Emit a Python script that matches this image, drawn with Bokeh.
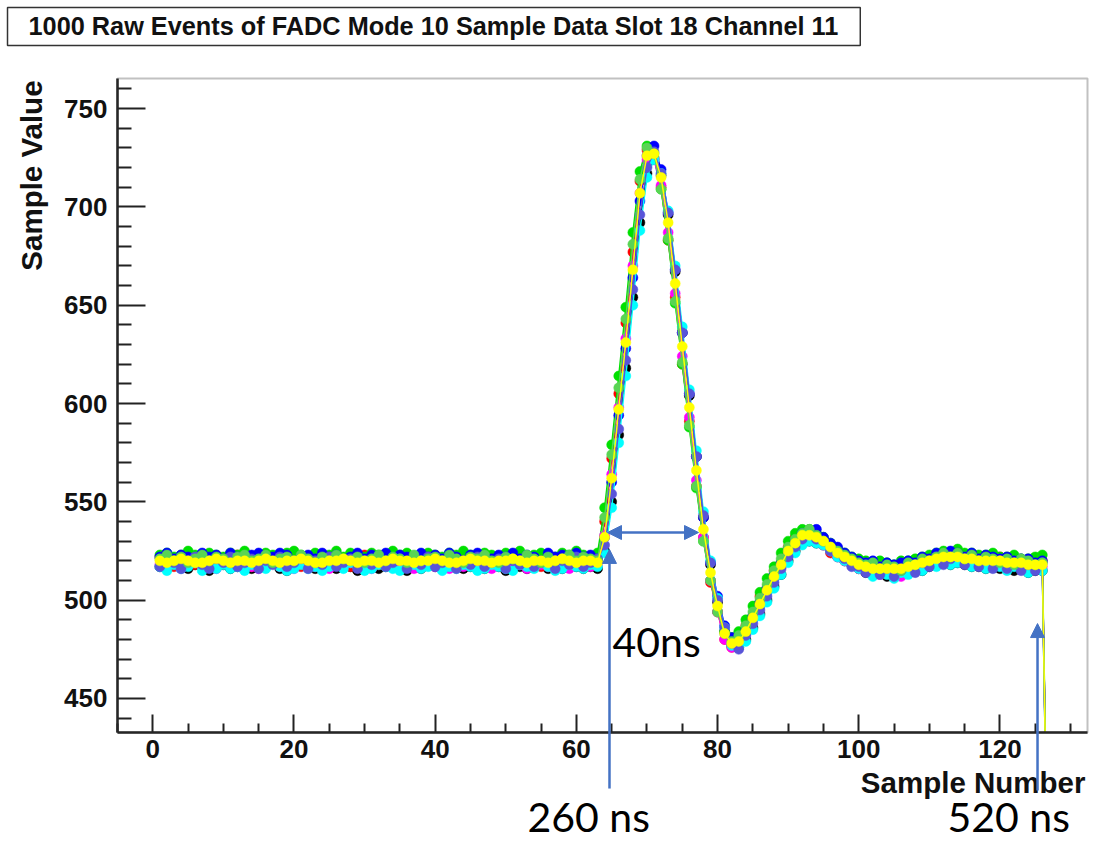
from math import pi
from bokeh.plotting import figure
from bokeh.models import Range1d, FixedTicker, Label, Arrow, NormalHead, BoxAnnotation
from bokeh.embed import file_html
from bokeh.resources import INLINE

# ---------------- data ----------------
samples = list(range(1, 128))

x_major = [0, 20, 40, 60, 80, 100, 120]
x_minor = [-5, 5, 10, 15, 25, 30, 35, 45, 50, 55, 65, 70, 75, 85, 90, 95, 105, 110, 115, 125, 130]
y_major = [450, 500, 550, 600, 650, 700, 750]
y_minor = [440, 460, 470, 480, 490, 510, 520, 530, 540, 560, 570, 580, 590,
           610, 620, 630, 640, 660, 670, 680, 690, 710, 720, 730, 740, 760]

ev_black = [517,516,518,517,516,518,517,515,517,518,
            516,517,518,516,517,517,519,516,515,517,
            518,517,516,517,518,516,517,517,515,518,
            517,516,517,518,517,515,517,516,518,517,
            516,518,517,516,517,518,516,517,517,515,
            518,517,516,517,518,516,517,516,518,517,
            516,517,516,
            525,550,584,618,654,692,717,724,716,696,
            667,636,604,573,542,518,499,484,477,476,
            480,486,493,500,507,513,520,525,529,530,
            529,528,525,522,520,518,516,
            514,513,514,512,513,514,514,515,515,517,
            518,519,518,519,518,517,517,516,517,516,
            516,515,516,514,515,515,
            298]

ev_red = [522,519,517,521,523,518,520,517,522,521,
          518,523,520,517,521,522,519,523,518,520,
          517,521,523,519,518,522,520,517,521,523,
          519,518,522,520,517,523,521,518,520,522,
          517,521,519,523,518,520,522,517,521,519,
          523,518,520,522,517,521,519,523,520,518,
          521,518,520,
          540,572,605,641,677,713,729,725,710,683,
          654,620,591,558,532,509,494,480,476,478,
          487,491,502,506,515,519,527,532,531,535,
          530,531,524,526,520,521,516,
          519,514,517,518,514,517,519,516,521,522,
          519,524,520,523,523,519,522,518,521,522,
          517,521,520,516,519,520,
          302]

ev_green = [523,524,522,523,525,523,522,524,523,522,
            524,523,525,522,523,524,523,522,524,525,
            523,522,524,523,523,525,522,524,523,522,
            524,523,522,525,523,524,522,523,524,523,
            522,524,523,525,523,522,524,523,522,524,
            523,525,522,523,524,523,522,524,523,525,
            523,522,524,
            547,579,614,649,687,718,731,725,709,683,
            651,620,588,557,530,510,494,484,481,484,
            490,497,504,511,517,524,530,534,536,536,
            534,532,529,526,524,522,521,
            520,519,520,519,518,520,520,521,522,523,
            524,525,524,526,524,524,523,523,524,522,
            522,523,521,521,522,523,
            305]

ev_blue = [522,524,521,523,522,520,524,522,523,521,
           524,522,520,523,524,521,522,524,523,520,
           522,523,521,524,522,523,520,522,524,521,
           523,522,524,520,523,522,521,524,522,523,
           521,524,522,520,523,524,522,521,523,522,
           524,521,523,522,520,524,522,523,521,524,
           522,523,521,
           532,560,594,628,664,703,726,731,719,697,
           668,636,605,573,542,519,502,487,481,481,
           485,492,499,506,513,519,526,530,534,535,
           536,532,529,527,524,522,520,
           519,520,517,519,518,519,520,519,522,521,
           524,523,525,524,522,524,521,523,522,521,
           522,520,521,521,519,520,
           299]

ev_magenta = [518,517,519,516,518,520,517,518,516,519,
              517,518,520,517,516,518,519,517,518,516,
              519,518,517,520,516,518,517,519,518,517,
              516,519,518,517,520,518,516,518,519,517,
              518,516,519,517,518,520,517,516,518,519,
              517,518,516,519,518,517,520,518,516,518,
              519,517,518,
              533,564,598,633,670,707,724,724,711,687,
              656,624,593,561,532,510,494,480,476,478,
              483,490,497,504,511,517,523,527,531,531,
              530,528,525,522,520,518,516,
              515,516,513,515,514,512,515,517,516,518,
              519,519,521,520,519,518,518,519,517,518,
              516,518,517,515,516,517,
              303]

ev_cyan = [517,515,518,516,517,519,515,517,516,518,
           516,517,515,518,517,516,519,517,515,516,
           518,516,517,515,517,518,516,519,517,515,
           516,518,517,516,515,517,518,516,517,519,
           515,517,516,518,517,515,516,518,517,516,
           515,518,517,516,519,517,515,516,518,517,
           516,518,517,
           524,547,580,614,650,688,715,724,717,698,
           670,639,607,576,545,520,501,486,477,476,
           479,485,492,499,506,513,519,524,528,530,
           529,528,525,522,520,518,516,
           515,512,514,513,511,514,513,516,515,518,
           517,520,518,519,519,517,518,516,518,517,
           515,517,516,514,516,515,
           297]

ev_purple = [517,521,519,516,520,522,518,516,521,519,
             522,517,519,521,516,520,518,522,517,519,
             521,516,520,518,522,517,519,521,516,520,
             518,522,517,519,521,516,520,518,522,517,
             519,521,516,520,518,522,517,519,521,516,
             520,518,522,517,519,521,516,520,518,522,
             517,519,521,
             528,554,587,622,658,696,720,728,717,697,
             668,636,605,573,543,519,500,486,478,475,
             482,488,495,502,509,516,522,527,531,534,
             531,530,525,524,521,517,517,
             514,517,513,516,512,515,518,514,519,517,
             522,518,521,523,518,522,517,521,516,520,
             516,519,515,518,515,519,
             301]

ev_lightgreen = [521,523,520,522,519,521,523,520,522,521,
                 519,522,523,520,521,523,519,521,522,520,
                 523,521,519,522,520,523,521,520,522,519,
                 521,523,520,522,521,519,523,520,521,522,
                 520,523,521,519,522,521,523,520,519,522,
                 521,520,523,521,519,522,520,521,523,520,
                 522,521,520,
                 542,574,608,643,681,714,730,727,709,684,
                 652,621,589,558,530,510,494,483,479,482,
                 487,494,501,508,515,521,527,531,534,536,
                 533,530,527,525,523,521,519,
                 518,519,516,518,517,515,519,518,521,520,
                 522,524,522,524,521,523,520,522,521,519,
                 521,518,521,520,518,519,
                 304]

ev_yellow = [520,519,520,521,520,519,519,520,521,520,
             519,520,520,519,520,521,520,519,520,520,
             521,520,519,519,520,520,521,520,519,520,
             520,519,520,521,520,520,519,520,520,521,
             520,519,519,520,521,520,520,519,520,520,
             521,520,519,520,520,519,520,521,520,519,
             520,520,519,
             532,562,597,631,668,707,726,727,715,692,
             661,629,598,566,536,514,497,483,478,479,
             484,491,498,505,512,518,525,529,533,533,
             532,530,527,524,522,520,518,
             517,516,516,516,516,516,517,518,519,520,
             521,522,522,522,521,521,520,520,520,520,
             519,519,519,518,518,518,
             300]

events = [
    (ev_black, "#000000"),
    (ev_red, "#ff0000"),
    (ev_green, "#00e000"),
    (ev_blue, "#0000ff"),
    (ev_magenta, "#ff00ff"),
    (ev_cyan, "#00ffff"),
    (ev_purple, "#5954d8"),
    (ev_lightgreen, "#59d454"),
    (ev_yellow, "#ffff00"),
]

# axis frame limits (data units) of the ROOT pad
X_LO, X_HI = -5.0, 132.4
Y_LO, Y_HI = 432.7, 765.3
# canvas-wide ranges so that annotations outside the pad are not clipped
PX_X = 7.0597   # pixels per sample
PX_Y = 1.9663   # pixels per ADC count
CANVAS_X0 = X_LO - 117 / PX_X
CANVAS_X1 = CANVAS_X0 + 1094 / PX_X
CANVAS_Y1 = Y_HI + 78 / PX_Y
CANVAS_Y0 = CANVAS_Y1 - 843 / PX_Y

# ---------------- figure ----------------
p = figure(width=1094, height=843,
           x_range=Range1d(CANVAS_X0, CANVAS_X1), y_range=Range1d(CANVAS_Y0, CANVAS_Y1),
           output_backend="svg", toolbar_location=None, min_border=0)
p.background_fill_color = "white"
p.border_fill_color = "white"
p.grid.visible = False
p.outline_line_color = None

for ax in (p.xaxis[0], p.yaxis[0]):
    ax.axis_line_color = "#222222"
    ax.axis_line_width = 2.5
    ax.major_tick_line_color = "#222222"
    ax.minor_tick_line_color = "#222222"
    ax.major_tick_line_width = 2
    ax.minor_tick_line_width = 2
    ax.major_tick_out = 0
    ax.minor_tick_out = 0
    ax.major_label_text_font = "Liberation Sans"
    ax.major_label_text_font_style = "bold"
    ax.major_label_text_font_size = "26px"
    ax.major_label_text_color = "#111111"
    ax.axis_label = None

p.xaxis.fixed_location = Y_LO
p.xaxis.bounds = (X_LO, X_HI)
p.xaxis.ticker = FixedTicker(ticks=x_major, minor_ticks=x_minor)
p.xaxis.major_tick_in = 18
p.xaxis.minor_tick_in = 9
p.xaxis.major_label_standoff = 8

p.yaxis.fixed_location = X_LO
p.yaxis.bounds = (Y_LO, Y_HI)
p.yaxis.ticker = FixedTicker(ticks=y_major, minor_ticks=y_minor)
p.yaxis.major_tick_in = 28
p.yaxis.minor_tick_in = 14
p.yaxis.major_label_standoff = 10

for vals, col in events:
    p.line(samples, vals, line_color=col, line_width=1.5)
    p.scatter(samples, vals, size=10, fill_color=col, line_color=col, line_width=0.5)

# mask: the pad clips the traces at its lower edge
p.quad(left=CANVAS_X0, right=CANVAS_X1, bottom=CANVAS_Y0, top=Y_LO,
       fill_color="white", line_color=None)

# pad frame
p.add_layout(BoxAnnotation(left=X_LO, right=X_HI, bottom=Y_LO, top=Y_HI,
                           fill_color=None, line_color="#333333", line_width=2))

# ---------------- titles / labels ----------------
# padding order: (left, right, top, bottom)
title = Label(x=-20.58, y=801.4, text="1000 Raw Events of FADC Mode 10 Sample Data Slot 18 Channel 11",
              text_font="Liberation Sans", text_font_style="bold", text_font_size="25.3px",
              text_color="#111111", text_align="left", text_baseline="top",
              border_line_color="#333333", border_line_width=1.5,
              background_fill_color="white", padding=(21, 22, 4, 6))
p.add_layout(title)

ylab = Label(x=-14.9, y=764.3, text="Sample Value", angle=pi / 2,
             text_font="Liberation Sans", text_font_style="bold", text_font_size="29.5px",
             text_color="#111111", text_align="right", text_baseline="bottom")
p.add_layout(ylab)

xlab = Label(x=132.11, y=407.3, text="Sample Number",
             text_font="Liberation Sans", text_font_style="bold", text_font_size="29.5px",
             text_color="#111111", text_align="right", text_baseline="alphabetic")
p.add_layout(xlab)

ann_font = dict(text_font="Lato", text_font_size="41px", text_color="black",
                text_align="left", text_baseline="alphabetic")
p.add_layout(Label(x=65.12, y=478.95, text="40ns", **ann_font))
p.add_layout(Label(x=53.08, y=389.95, text="260 ns", **ann_font))
p.add_layout(Label(x=112.57, y=389.9, text="520 ns", **ann_font))

blue = "#4472C4"
def head():
    return NormalHead(size=14, fill_color=blue, line_color=blue)

p.add_layout(Arrow(x_start=64.69, y_start=404.2, x_end=64.69, y_end=525.8,
                   line_color=blue, line_width=2.5, end=head()))
p.add_layout(Arrow(x_start=64.41, y_start=534.4, x_end=77.30, y_end=534.4,
                   line_color=blue, line_width=2.5, start=head(), end=head()))
p.add_layout(Arrow(x_start=125.32, y_start=403.2, x_end=125.32, y_end=488.1,
                   line_color=blue, line_width=2.5, end=head()))

open("out.html", "w").write(file_html(p, INLINE))
